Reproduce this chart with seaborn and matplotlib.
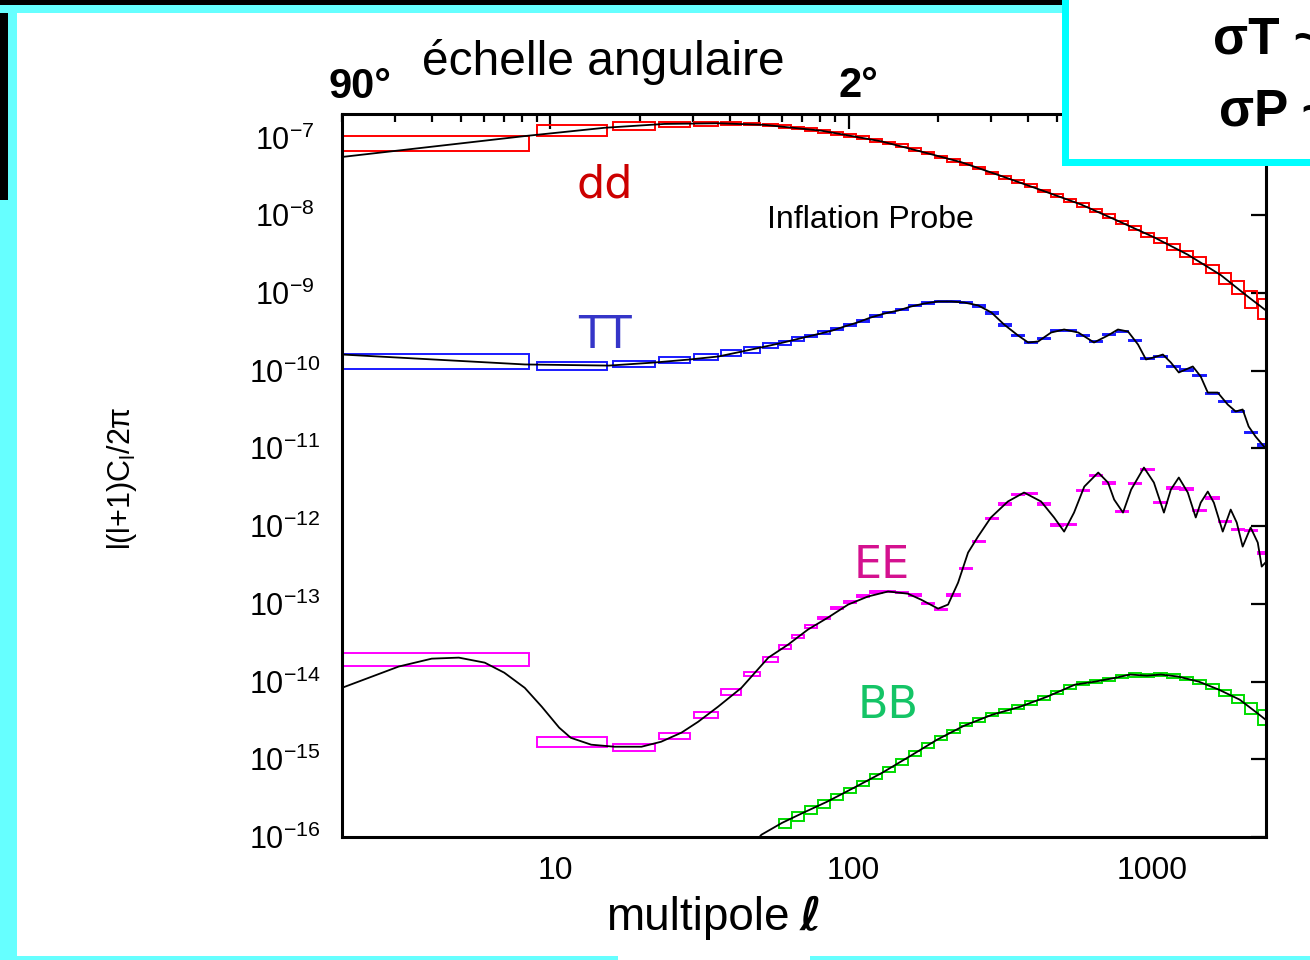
import numpy as np
import matplotlib
matplotlib.use("Agg")
import matplotlib.pyplot as plt
import matplotlib.transforms as mtransforms
from matplotlib.patches import Rectangle
from matplotlib.ticker import FixedLocator, FixedFormatter, NullFormatter, NullLocator
import seaborn as sns

# ---------------- data ----------------
# multipole bins of the simulated band powers
bin_lo = [2, 9, 16.2, 23.2, 30.4, 37.4, 44.7, 51.8, 58.6, 64.7, 71.5, 79, 87.3, 96.5,
          106.6, 117.8, 130.2, 143.9, 159, 175.7, 194.1, 214.5, 237, 262, 289.5, 320,
          353.5, 390.6, 431.6, 477, 527, 582, 643, 711, 786, 868, 959, 1060, 1171, 1294,
          1430, 1580, 1746, 1929, 2132, 2356]
bin_hi = [8.5, 15.5, 22.5, 29.4, 36.6, 43.6, 50.5, 58, 64.2, 71, 78.4, 86.6, 95.8, 105.8,
          117, 129.3, 143, 158, 174.6, 193, 213, 235.5, 260, 287.5, 318, 351, 388, 429,
          474, 524, 579, 640, 707, 781, 863, 954, 1055, 1165, 1288, 1424, 1574, 1740,
          1922, 2125, 2350, 2500]

# band power values per bin
dd_box = [8.45e-8, 1.23e-7, 1.40e-7, 1.455e-7, 1.51e-7, 1.52e-7, 1.49e-7, 1.44e-7, 1.37e-7,
          1.32e-7, 1.27e-7, 1.20e-7, 1.13e-7, 1.05e-7, 9.9e-8, 9.2e-8, 8.5e-8, 7.8e-8, 7.0e-8,
          6.3e-8, 5.6e-8, 5.05e-8, 4.55e-8, 4.05e-8, 3.5e-8, 3.05e-8, 2.7e-8, 2.4e-8, 2.05e-8,
          1.8e-8, 1.55e-8, 1.35e-8, 1.15e-8, 9.8e-9, 8.0e-9, 6.8e-9, 5.6e-9, 4.7e-9, 3.9e-9,
          3.2e-9, 2.6e-9, 2.05e-9, 1.55e-9, 1.2e-9, 8.5e-10, 6.5e-10]
dd_rel = [0.22, 0.16, 0.12, 0.07, 0.06, 0.05] + [0.04] * 24 + [0.05] * 5 + \
         [0.06, 0.06, 0.07, 0.08, 0.09, 0.10, 0.12, 0.15, 0.19, 0.25, 0.30]

tt_box = [1.335e-10, 1.155e-10, 1.225e-10, 1.38e-10, 1.52e-10, 1.67e-10, 1.85e-10, 2.1e-10,
          2.3e-10, 2.55e-10, 2.8e-10, 3.1e-10, 3.45e-10, 3.9e-10, 4.4e-10, 5.05e-10, 5.6e-10,
          6.15e-10, 6.85e-10, 7.4e-10, 7.75e-10, 7.7e-10, 7.45e-10, 6.8e-10, 5.5e-10, 3.85e-10,
          2.85e-10, 2.3e-10, 2.6e-10, 3.25e-10, 3.3e-10, 2.85e-10, 2.35e-10, 2.9e-10, 3.2e-10,
          2.45e-10, 1.42e-10, 1.52e-10, 1.12e-10, 1.02e-10, 8.7e-11, 5.1e-11, 4.0e-11, 3.0e-11,
          1.6e-11, 1.1e-11]
tt_rel = [0.21, 0.13, 0.10, 0.10, 0.09, 0.09, 0.08, 0.07, 0.06, 0.05, 0.04, 0.04, 0.03,
          0.03, 0.03] + [0.02] * 31

ee_box = [1.96e-14, 1.7e-15, 1.435e-15, 2.0e-15, 3.77e-15, 7.4e-15, 1.26e-14, 1.93e-14,
          2.8e-14, 3.8e-14, 5.1e-14, 6.6e-14, 8.8e-14, 1.05e-13, 1.25e-13, 1.42e-13, 1.43e-13,
          1.4e-13, 1.3e-13, 1.0e-13, 8.5e-14, 1.3e-13, 2.84e-13, 6.3e-13, 1.25e-12, 1.92e-12,
          2.55e-12, 2.6e-12, 1.92e-12, 1.03e-12, 1.05e-12, 2.86e-12, 4.5e-12, 3.6e-12,
          1.55e-12, 3.5e-12, 5.3e-12, 2.0e-12, 3.1e-12, 3.0e-12, 1.6e-12, 2.3e-12, 1.14e-12,
          9.0e-13, 8.8e-13, 4.5e-13]
ee_rel = [0.20, 0.15, 0.10, 0.10, 0.09, 0.09, 0.06, 0.07, 0.06, 0.05, 0.04, 0.04, 0.03,
          0.03, 0.03] + [0.02] * 31

nan = float("nan")
bb_box = [nan] * 8 + [1.5e-16, 1.85e-16, 2.25e-16, 2.7e-16, 3.3e-16, 4.0e-16, 4.9e-16,
          6.0e-16, 7.4e-16, 9.3e-16, 1.18e-15, 1.5e-15, 1.88e-15, 2.3e-15, 2.78e-15, 3.2e-15,
          3.75e-15, 4.2e-15, 4.7e-15, 5.3e-15, 6.15e-15, 7.2e-15, 8.5e-15, 9.5e-15, 1.0e-14,
          1.07e-14, 1.17e-14, 1.22e-14, 1.19e-14, 1.23e-14, 1.18e-14, 1.1e-14, 9.9e-15,
          8.6e-15, 7.2e-15, 6.0e-15, 4.6e-15, 3.5e-15]
bb_rel = [nan] * 8 + [0.12] * 4 + [0.08] * 8 + [0.05] * 20 + [0.06, 0.07, 0.09, 0.12, 0.16, 0.22]

# theory curves
dd_ell = [2, 8.2, 15.2, 24.1, 36.6, 52.2, 81, 99.7, 128.7, 174.3, 238.5, 324, 442, 602, 819,
          1056, 1372, 1768, 2178, 2500]
dd_val = [5.6e-8, 1.04e-7, 1.33e-7, 1.49e-7, 1.52e-7, 1.45e-7, 1.22e-7, 1.06e-7, 8.9e-8,
          6.6e-8, 4.8e-8, 3.2e-8, 2.1e-8, 1.37e-8, 8.1e-9, 5.2e-9, 3.1e-9, 1.7e-9, 9.0e-10,
          6.0e-10]

tt_ell = [2, 8.2, 15.7, 22.3, 29.3, 36.6, 43.9, 58.4, 70.9, 87.6, 97, 107, 118.6, 132, 146.6,
          162, 179.7, 199.4, 221, 244, 272, 301, 332, 370, 400, 432, 477.5, 528, 589, 665,
          740.5, 800, 865, 934, 993.5, 1056, 1132, 1204, 1280, 1372, 1426, 1516, 1601, 1729,
          1867, 1986, 2096, 2195, 2315, 2500]
tt_val = [1.61e-10, 1.20e-10, 1.16e-10, 1.27e-10, 1.39e-10, 1.52e-10, 1.76e-10, 2.23e-10,
          2.67e-10, 3.25e-10, 3.70e-10, 4.16e-10, 4.82e-10, 5.43e-10, 5.93e-10, 6.68e-10,
          7.31e-10, 7.74e-10, 7.74e-10, 7.52e-10, 6.89e-10, 5.60e-10, 3.92e-10, 2.83e-10,
          2.30e-10, 2.37e-10, 3.09e-10, 3.38e-10, 3.09e-10, 2.30e-10, 2.83e-10, 3.38e-10,
          3.18e-10, 2.17e-10, 1.39e-10, 1.48e-10, 1.61e-10, 1.27e-10, 9.46e-11, 1.06e-10,
          1.13e-10, 8.39e-11, 5.22e-11, 5.22e-11, 3.66e-11, 2.98e-11, 3.16e-11, 1.91e-11,
          1.42e-11, 1.0e-11]

ee_ell = [2, 3.1, 4.0, 4.93, 6.02, 7.0, 8.2, 9.35, 10.7, 11.7, 13.7, 16.4, 20.2, 23.5, 27.5,
          31.3, 36.5, 43.7, 53.8, 62.7, 73, 85.2, 99.6, 116, 135.6, 158, 175, 199.5, 215.5,
          232.8, 251.5, 271.6, 300, 342, 387.5, 442, 488.5, 528, 570, 617, 687, 741, 777, 832,
          886, 978, 1056, 1141, 1204, 1280, 1372, 1459, 1516, 1601, 1678, 1797, 1911, 2002,
          2096, 2229, 2355, 2428, 2500]
ee_val = [8.3e-15, 1.56e-14, 1.97e-14, 2.03e-14, 1.75e-14, 1.30e-14, 8.3e-15, 4.75e-15,
          2.55e-15, 1.89e-15, 1.54e-15, 1.45e-15, 1.45e-15, 1.68e-15, 2.20e-15, 3.04e-15,
          4.75e-15, 8.3e-15, 2.03e-14, 2.99e-14, 4.66e-14, 6.64e-14, 9.77e-14, 1.24e-13,
          1.44e-13, 1.35e-13, 1.13e-13, 8.67e-14, 9.77e-14, 1.87e-13, 4.56e-13, 7.33e-13,
          1.29e-12, 2.07e-12, 2.70e-12, 2.07e-12, 1.29e-12, 8.49e-13, 1.49e-12, 3.22e-12,
          4.88e-12, 3.63e-12, 2.19e-12, 1.49e-12, 2.95e-12, 5.66e-12, 3.63e-12, 1.49e-12,
          2.95e-12, 4.21e-12, 2.70e-12, 1.29e-12, 2.00e-12, 2.78e-12, 2.00e-12, 8.49e-13,
          1.63e-12, 1.11e-12, 5.44e-13, 9.57e-13, 6.13e-13, 3.01e-13, 3.4e-13]

bb_ell = [49, 51, 59.8, 70.4, 84.6, 104.3, 129.6, 159.6, 198.2, 243.8, 302.8, 376, 463, 574,
          670, 788, 877, 1001, 1115, 1271, 1494, 1743, 2048, 2335, 2500]
bb_val = [9.0e-17, 1.07e-16, 1.52e-16, 2.05e-16, 2.84e-16, 4.31e-16, 6.71e-16, 1.08e-15,
          1.79e-15, 2.70e-15, 3.74e-15, 4.74e-15, 6.38e-15, 9.12e-15, 9.97e-15, 1.12e-14,
          1.23e-14, 1.19e-14, 1.23e-14, 1.16e-14, 9.97e-15, 7.87e-15, 5.85e-15, 3.98e-15,
          3.24e-15]

x_major = [10, 100, 1000]
x_major_labels = ["10", "100", "1000"]
x_minor = [2, 3, 4, 5, 6, 7, 8, 9, 20, 30, 40, 50, 60, 70, 80, 90,
           200, 300, 400, 500, 600, 700, 800, 900, 2000]
y_exponents = [-16, -15, -14, -13, -12, -11, -10, -9, -8, -7]

# ---------------- style ----------------
sns.set_theme(style="white")
plt.rcParams['font.family'] = ['Liberation Sans', 'DejaVu Sans']
plt.rcParams['axes.unicode_minus'] = False
plt.rcParams['mathtext.fontset'] = 'custom'
plt.rcParams['mathtext.rm'] = 'Liberation Sans'
plt.rcParams['mathtext.it'] = 'Liberation Sans:italic'
plt.rcParams['mathtext.bf'] = 'Liberation Sans:bold'

W, H = 1310, 960
fig = plt.figure(figsize=(W / 100, H / 100), dpi=100)
fig.patch.set_facecolor('white')


def fx(px):
    return px / W


def fy(py):
    return 1 - py / H


ax = fig.add_axes([fx(342), fy(837), fx(1265.5) - fx(342), fy(114) - fy(837)])
ax.set_facecolor('white')
ax.set_xscale('log')
ax.set_yscale('log')


def draw_boxes(vals, rels, color):
    lo = np.array(bin_lo, float)
    hi = np.array(bin_hi, float)
    v = np.array(vals, float)
    r = np.array(rels, float)
    m = ~np.isnan(v)
    e = v * r
    ax.bar(lo[m], 2 * e[m], width=(hi - lo)[m], bottom=(v - e)[m], align='edge',
           fill=False, edgecolor=color, linewidth=1.4, zorder=2)


draw_boxes(dd_box, dd_rel, '#ff0000')
draw_boxes(tt_box, tt_rel, '#1a1aff')
draw_boxes(ee_box, ee_rel, '#ff00ff')
draw_boxes(bb_box, bb_rel, '#00dd00')

for xs, ys in [(dd_ell, dd_val), (tt_ell, tt_val), (ee_ell, ee_val), (bb_ell, bb_val)]:
    sns.lineplot(x=xs, y=ys, ax=ax, color='black', linewidth=1.3, zorder=3,
                 estimator=None, sort=False)

ax.set_xlim(2, 2500)
ax.set_ylim(1e-16, 2e-7)

ax.xaxis.set_major_locator(FixedLocator(x_major))
ax.xaxis.set_major_formatter(FixedFormatter(x_major_labels))
ax.xaxis.set_minor_locator(FixedLocator(x_minor))
ax.xaxis.set_minor_formatter(NullFormatter())
ax.yaxis.set_major_locator(FixedLocator([10.0 ** e for e in y_exponents]))
ax.yaxis.set_major_formatter(FixedFormatter([r'$\mathdefault{10^{%d}}$' % e for e in y_exponents]))
ax.yaxis.set_minor_locator(NullLocator())

ax.tick_params(which='both', direction='in', top=True, right=True, width=1.6, color='black')
ax.tick_params(which='major', length=11)
ax.tick_params(which='minor', length=5.5)
ax.tick_params(axis='x', labelsize=23, pad=14, labelcolor='black')
ax.tick_params(axis='y', labelsize=22, pad=41, labelcolor='black')
for s in ax.spines.values():
    s.set_linewidth(2.2)
    s.set_color('black')
ax.set_xlabel('')
ax.set_ylabel('')

for lab in ax.get_yticklabels():
    lab.set_horizontalalignment('center')
off = mtransforms.ScaledTranslation(5 / 100, 0, fig.dpi_scale_trans)
for lab in ax.get_xticklabels():
    lab.set_transform(lab.get_transform() + off)

# ---------------- texts ----------------
fig.text(fx(605), fy(197), 'dd', color='#cc0000', fontsize=32, ha='center', va='baseline',
         family='DejaVu Sans')
fig.text(fx(605), fy(348), 'TT', color='#3535c8', fontsize=32, ha='center', va='baseline',
         family='DejaVu Sans')
fig.text(fx(882), fy(578), 'EE', color='#d4118f', fontsize=32, ha='center', va='baseline',
         family='DejaVu Sans')
fig.text(fx(888), fy(718), 'BB', color='#14c466', fontsize=32, ha='center', va='baseline',
         family='DejaVu Sans')
fig.text(fx(870), fy(228), 'Inflation Probe', color='black', fontsize=23, ha='center',
         va='baseline')

fig.text(fx(422), fy(75), 'échelle angulaire', color='black', fontsize=34.5, ha='left',
         va='baseline')
fig.text(fx(328), fy(98), '90°', color='black', fontsize=30, fontweight='bold', ha='left',
         va='baseline')
fig.text(fx(839), fy(97), '2°', color='black', fontsize=30, fontweight='bold', ha='left',
         va='baseline')

fig.text(fx(122), fy(478), r'l(l+1)C$_\mathdefault{l}$/2π', rotation=90, fontsize=22,
         ha='center', va='center', color='black')
fig.text(fx(790), fy(930), 'multipole', fontsize=33, ha='right', va='baseline', color='black')
fig.text(fx(800), fy(930), 'ℓ', fontsize=33, ha='left', va='baseline', color='black',
         family='DejaVu Sans', fontweight='bold', style='italic')

# ---------------- frame ----------------


def frame_rect(x0, y0, x1, y1, color, z=5):
    fig.add_artist(Rectangle((fx(x0), fy(y1)), (x1 - x0) / W, (y1 - y0) / H,
                             transform=fig.transFigure, facecolor=color, edgecolor='none',
                             zorder=z))


frame_rect(0, 0, 1062, 5, 'black')
frame_rect(0, 0, 8, 200, 'black')
frame_rect(0, 5, 1062, 13, '#66ffff')
frame_rect(8, 5, 17, 960, '#66ffff')
frame_rect(0, 200, 8, 960, '#66ffff')
frame_rect(0, 956, 618, 960, '#66ffff')
frame_rect(810, 956, 1310, 960, '#66ffff')
# upper right panel (cut by the picture edge, as in the original)
frame_rect(1062, 0, 1310, 166, '#00ffff', z=6)
frame_rect(1069, 0, 1310, 159, 'white', z=7)
t1 = fig.text(fx(1213), fy(53), 'σT ~', fontsize=37, fontweight='bold', ha='left',
              va='baseline', color='black')
t2 = fig.text(fx(1219), fy(125), 'σP ~', fontsize=37, fontweight='bold', ha='left',
              va='baseline', color='black')
t1.set_zorder(8)
t2.set_zorder(8)

fig.savefig('out.png', dpi=100, facecolor='white')
